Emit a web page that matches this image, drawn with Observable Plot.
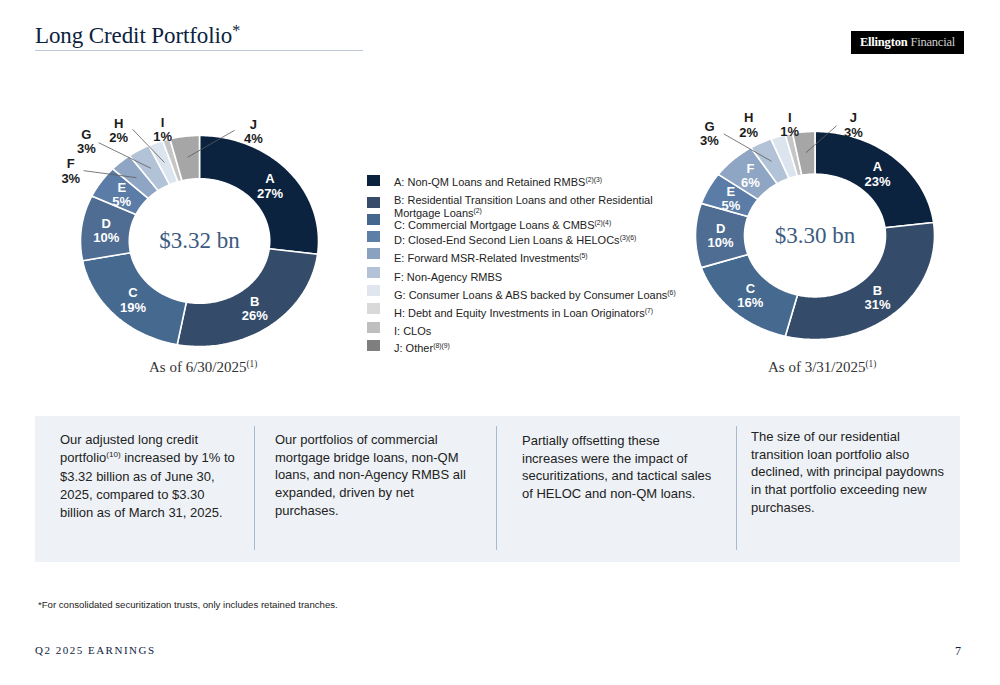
<!DOCTYPE html>
<html><head><meta charset="utf-8">
<script src="https://cdn.jsdelivr.net/npm/d3@7"></script>
<script src="https://cdn.jsdelivr.net/npm/@observablehq/plot@0.6"></script>
<style>
body{margin:0;background:#fff;}
#page{position:relative;width:1000px;height:685px;overflow:hidden;font-family:"Liberation Sans",Arial,sans-serif;color:#222;}
.abs{position:absolute;white-space:nowrap;}
.serif{font-family:"Liberation Serif","Times New Roman",serif;}
sup{font-size:0.62em;vertical-align:0;position:relative;top:-0.55em;}
.col{position:absolute;font-size:13px;line-height:17.7px;color:#222;white-space:nowrap;}
.sw{position:absolute;width:13px;height:11px;}
.lg{position:absolute;font-size:11px;line-height:13px;color:#222;white-space:nowrap;}
</style></head><body><div id="page"></div>
<script>
// ---------- data ----------
const categories = ["A","B","C","D","E","F","G","H","I","J"];
const legendLabels = [
  "A: Non-QM Loans and Retained RMBS",
  "B: Residential Transition Loans and other Residential|Mortgage Loans",
  "C: Commercial Mortgage Loans & CMBS",
  "D: Closed-End Second Lien Loans & HELOCs",
  "E: Forward MSR-Related Investments",
  "F: Non-Agency RMBS",
  "G: Consumer Loans & ABS backed by Consumer Loans",
  "H: Debt and Equity Investments in Loan Originators",
  "I: CLOs",
  "J: Other"
];
const legendSups = ["(2)(3)","(2)","(2)(4)","(3)(6)","(5)","","(6)","(7)","","(8)(9)"];
const juneValues  = [27, 26, 19, 10, 5, 3, 3, 2, 1, 4];
const marchValues = [23, 31, 16, 10, 5, 6, 3, 2, 1, 3];
const juneTotal = "$3.32 bn";
const marchTotal = "$3.30 bn";
const juneDate = "6/30/2025";
const marchDate = "3/31/2025";
const sliceColors  = ["#0c2340","#344c6a","#46698f","#4f6d93","#5b7ca6","#8ea5c3","#b3c3d7","#dce4ee","#c6c6c6","#a6a6a6"];
const legendColors = ["#0c2340","#364c6a","#45678f","#5d7ea7","#8aa1c0","#b3c3d7","#dfe6ee","#d9d9d9","#bfbfbf","#7f7f7f"];

// outside label placement (angle in degrees clockwise from top, radius relative to outer ring)
const juneOutside = [
  {key:"F", angle:301.6, r:1.27, leadAngle:304.4, leadR:1.18},
  {key:"G", angle:314.8, r:1.34, leadAngle:317.7, leadR:1.26},
  {key:"H", angle:327.1, r:1.25, leadAngle:332.0, leadR:1.20},
  {key:"I", angle:343.6, r:1.10},
  {key:"J", angle:23.6,  r:1.13, leadAngle:15.7,  leadR:1.09}
];
const marchOutside = [
  {key:"G", angle:318.0, r:1.32, leadAngle:322.0, leadR:1.24},
  {key:"H", angle:332.4, r:1.20},
  {key:"I", angle:348.8, r:1.09},
  {key:"J", angle:16.8,  r:1.11, leadAngle:9.7,   leadR:1.07}
];

const columns = [
  ["Our adjusted long credit","portfolio<sup>(10)</sup> increased by 1% to","$3.32 billion as of June 30,","2025, compared to $3.30","billion as of March 31, 2025."],
  ["Our portfolios of commercial","mortgage bridge loans, non-QM","loans, and non-Agency RMBS all","expanded, driven by net","purchases."],
  ["Partially offsetting these","increases were the impact of","securitizations, and tactical sales","of HELOC and non-QM loans."],
  ["The size of our residential","transition loan portfolio also","declined, with principal paydowns","in that portfolio exceeding new","purchases."]
];

// ---------- page ----------
const page = document.getElementById("page");
function add(html, cls, style){ const d=document.createElement("div"); d.className=cls||"abs"; d.innerHTML=html; Object.assign(d.style, style||{}); page.appendChild(d); return d; }

add("Long Credit Portfolio<span style='font-size:0.7em;position:relative;top:-0.45em'>*</span>", "abs serif", {left:"35px", top:"23px", fontSize:"23px", color:"#0c2340", letterSpacing:"-0.1px"});
add("", "abs", {left:"35px", top:"50px", width:"328px", height:"1px", background:"#bcc7d6"});
add("<b style='color:#fff'>Ellington</b> <span style='color:#cfcfcf'>Financial</span>", "abs serif", {left:"851px", top:"31px", width:"113px", height:"23px", background:"#000", fontSize:"12.5px", lineHeight:"23px", textAlign:"center", letterSpacing:"-0.2px"});

// legend
const swTops  = [175, 197, 214, 231, 248, 267, 285, 303, 322, 340];
const txtTops = [176, 194, 219, 234, 252, 271, 289, 307, 325, 342];
categories.forEach((c,i)=>{
  add("", "sw", {left:"367px", top: swTops[i]+"px", background: legendColors[i]});
  const parts = legendLabels[i].split("|");
  const html = parts.map((p,j)=> p + (j===parts.length-1 && legendSups[i] ? "<sup>"+legendSups[i]+"</sup>" : "")).join("<br>");
  add(html, "lg", {left:"394px", top: txtTops[i]+"px"});
});

// captions
add("As of "+juneDate+"<sup>(1)</sup>", "abs serif", {left:"149px", top:"359px", fontSize:"15px", color:"#333"});
add("As of "+marchDate+"<sup>(1)</sup>", "abs serif", {left:"768px", top:"359px", fontSize:"15px", color:"#333"});

// text box
add("", "abs", {left:"35px", top:"416px", width:"925px", height:"146px", background:"#eef2f6"});
[254, 496, 736].forEach(x=> add("", "abs", {left:x+"px", top:"426px", width:"1px", height:"124px", background:"#a9b9cd"}));
const colLeft = [60, 275, 522, 751];
const colTop = [431, 431, 432, 428];
columns.forEach((lines,i)=> add(lines.join("<br>"), "col", {left: colLeft[i]+"px", top: colTop[i]+"px"}));

add("*For consolidated securitization trusts, only includes retained tranches.", "abs", {left:"38px", top:"599px", fontSize:"9.6px", color:"#222"});
add("Q2 2025 EARNINGS", "abs serif", {left:"35px", top:"644px", fontSize:"11px", letterSpacing:"1.5px", color:"#0c2340"});
add("7", "abs serif", {left:"955px", top:"644px", fontSize:"12px", color:"#0c2340"});

// ---------- donuts ----------
const rad = d => d*Math.PI/180;
function donut({values, total, outside, cx, cy, rx, ry, left, top, width, height}) {
  const rows = values.map((v,i)=>({key: categories[i], value: v}));
  const arcs = d3.pie().sort(null).value(d=>d.value)(rows);
  const inner = 0.59;
  const pts = [];
  for (const p of arcs) {
    const a0 = p.startAngle, a1 = p.endAngle;
    const n = Math.max(3, Math.ceil((a1-a0)/(2*Math.PI)*360));
    const ring = [];
    for (let k=0;k<=n;k++){ const a=a0+(a1-a0)*k/n; ring.push({key:p.data.key, x:Math.sin(a), y:Math.cos(a)}); }
    for (let k=n;k>=0;k--){ const a=a0+(a1-a0)*k/n; ring.push({key:p.data.key, x:inner*Math.sin(a), y:inner*Math.cos(a)}); }
    ring.push({...ring[0]});
    pts.push(...ring);
  }
  const outsideKeys = new Set(outside.map(o=>o.key));
  const mid = p => (p.startAngle + p.endAngle)/2;
  const insideLabels = arcs.filter(p=>!outsideKeys.has(p.data.key)).map(p=>({
    text: p.data.key + "\n" + p.data.value + "%",
    x: 0.79*Math.sin(mid(p)), y: 0.79*Math.cos(mid(p))
  }));
  const byKey = new Map(arcs.map(p=>[p.data.key,p]));
  const outLabels = outside.map(o=>{ const p=byKey.get(o.key); return {
    text: o.key + "\n" + p.data.value + "%",
    x: o.r*Math.sin(rad(o.angle)), y: o.r*Math.cos(rad(o.angle))
  };});
  const leaders = outside.filter(o=>o.leadAngle!=null).map(o=>{ const p=byKey.get(o.key); const m=mid(p); return {
    x1: o.leadR*Math.sin(rad(o.leadAngle)), y1: o.leadR*Math.cos(rad(o.leadAngle)),
    x2: 0.8*Math.sin(m), y2: 0.8*Math.cos(m)
  };});
  const ox = cx-left, oy = cy-top;
  const chart = Plot.plot({
    width, height, margin: 0,
    x: {domain: [-ox/rx, (width-ox)/rx], axis: null},
    y: {domain: [-(height-oy)/ry, oy/ry], axis: null},
    color: {domain: categories, range: sliceColors},
    style: {fontFamily: "'Liberation Sans', Arial, sans-serif", overflow: "visible", background: "transparent"},
    marks: [
      Plot.line(pts, {x:"x", y:"y", z:"key", fill:"key", stroke:"white", strokeWidth:1.6, strokeLinejoin:"miter", curve:"linear"}),
      Plot.link(leaders, {x1:"x1", y1:"y1", x2:"x2", y2:"y2", stroke:"#5a5a5a", strokeWidth:0.8}),
      Plot.text(insideLabels, {x:"x", y:"y", text:"text", fill:"white", fontSize:13, fontWeight:"bold", lineHeight:1.1}),
      Plot.text(outLabels, {x:"x", y:"y", text:"text", fill:"#1b1b1b", fontSize:13, fontWeight:"bold", lineHeight:1.1}),
      Plot.text([total], {x: () => 0, y: () => 0, text: d=>d, fill:"#3d5a7f", fontSize:23, fontFamily:"'Liberation Serif', serif"})
    ]
  });
  chart.style.position = "absolute";
  chart.style.left = left+"px";
  chart.style.top = top+"px";
  page.appendChild(chart);
}

donut({values: juneValues, total: juneTotal, outside: juneOutside, cx:199, cy:240.5, rx:119, ry:105.5, left:40, top:100, width:320, height:280});
donut({values: marchValues, total: marchTotal, outside: marchOutside, cx:814.5, cy:235, rx:119.5, ry:104, left:660, top:95, width:320, height:280});
</script>
</body></html>
